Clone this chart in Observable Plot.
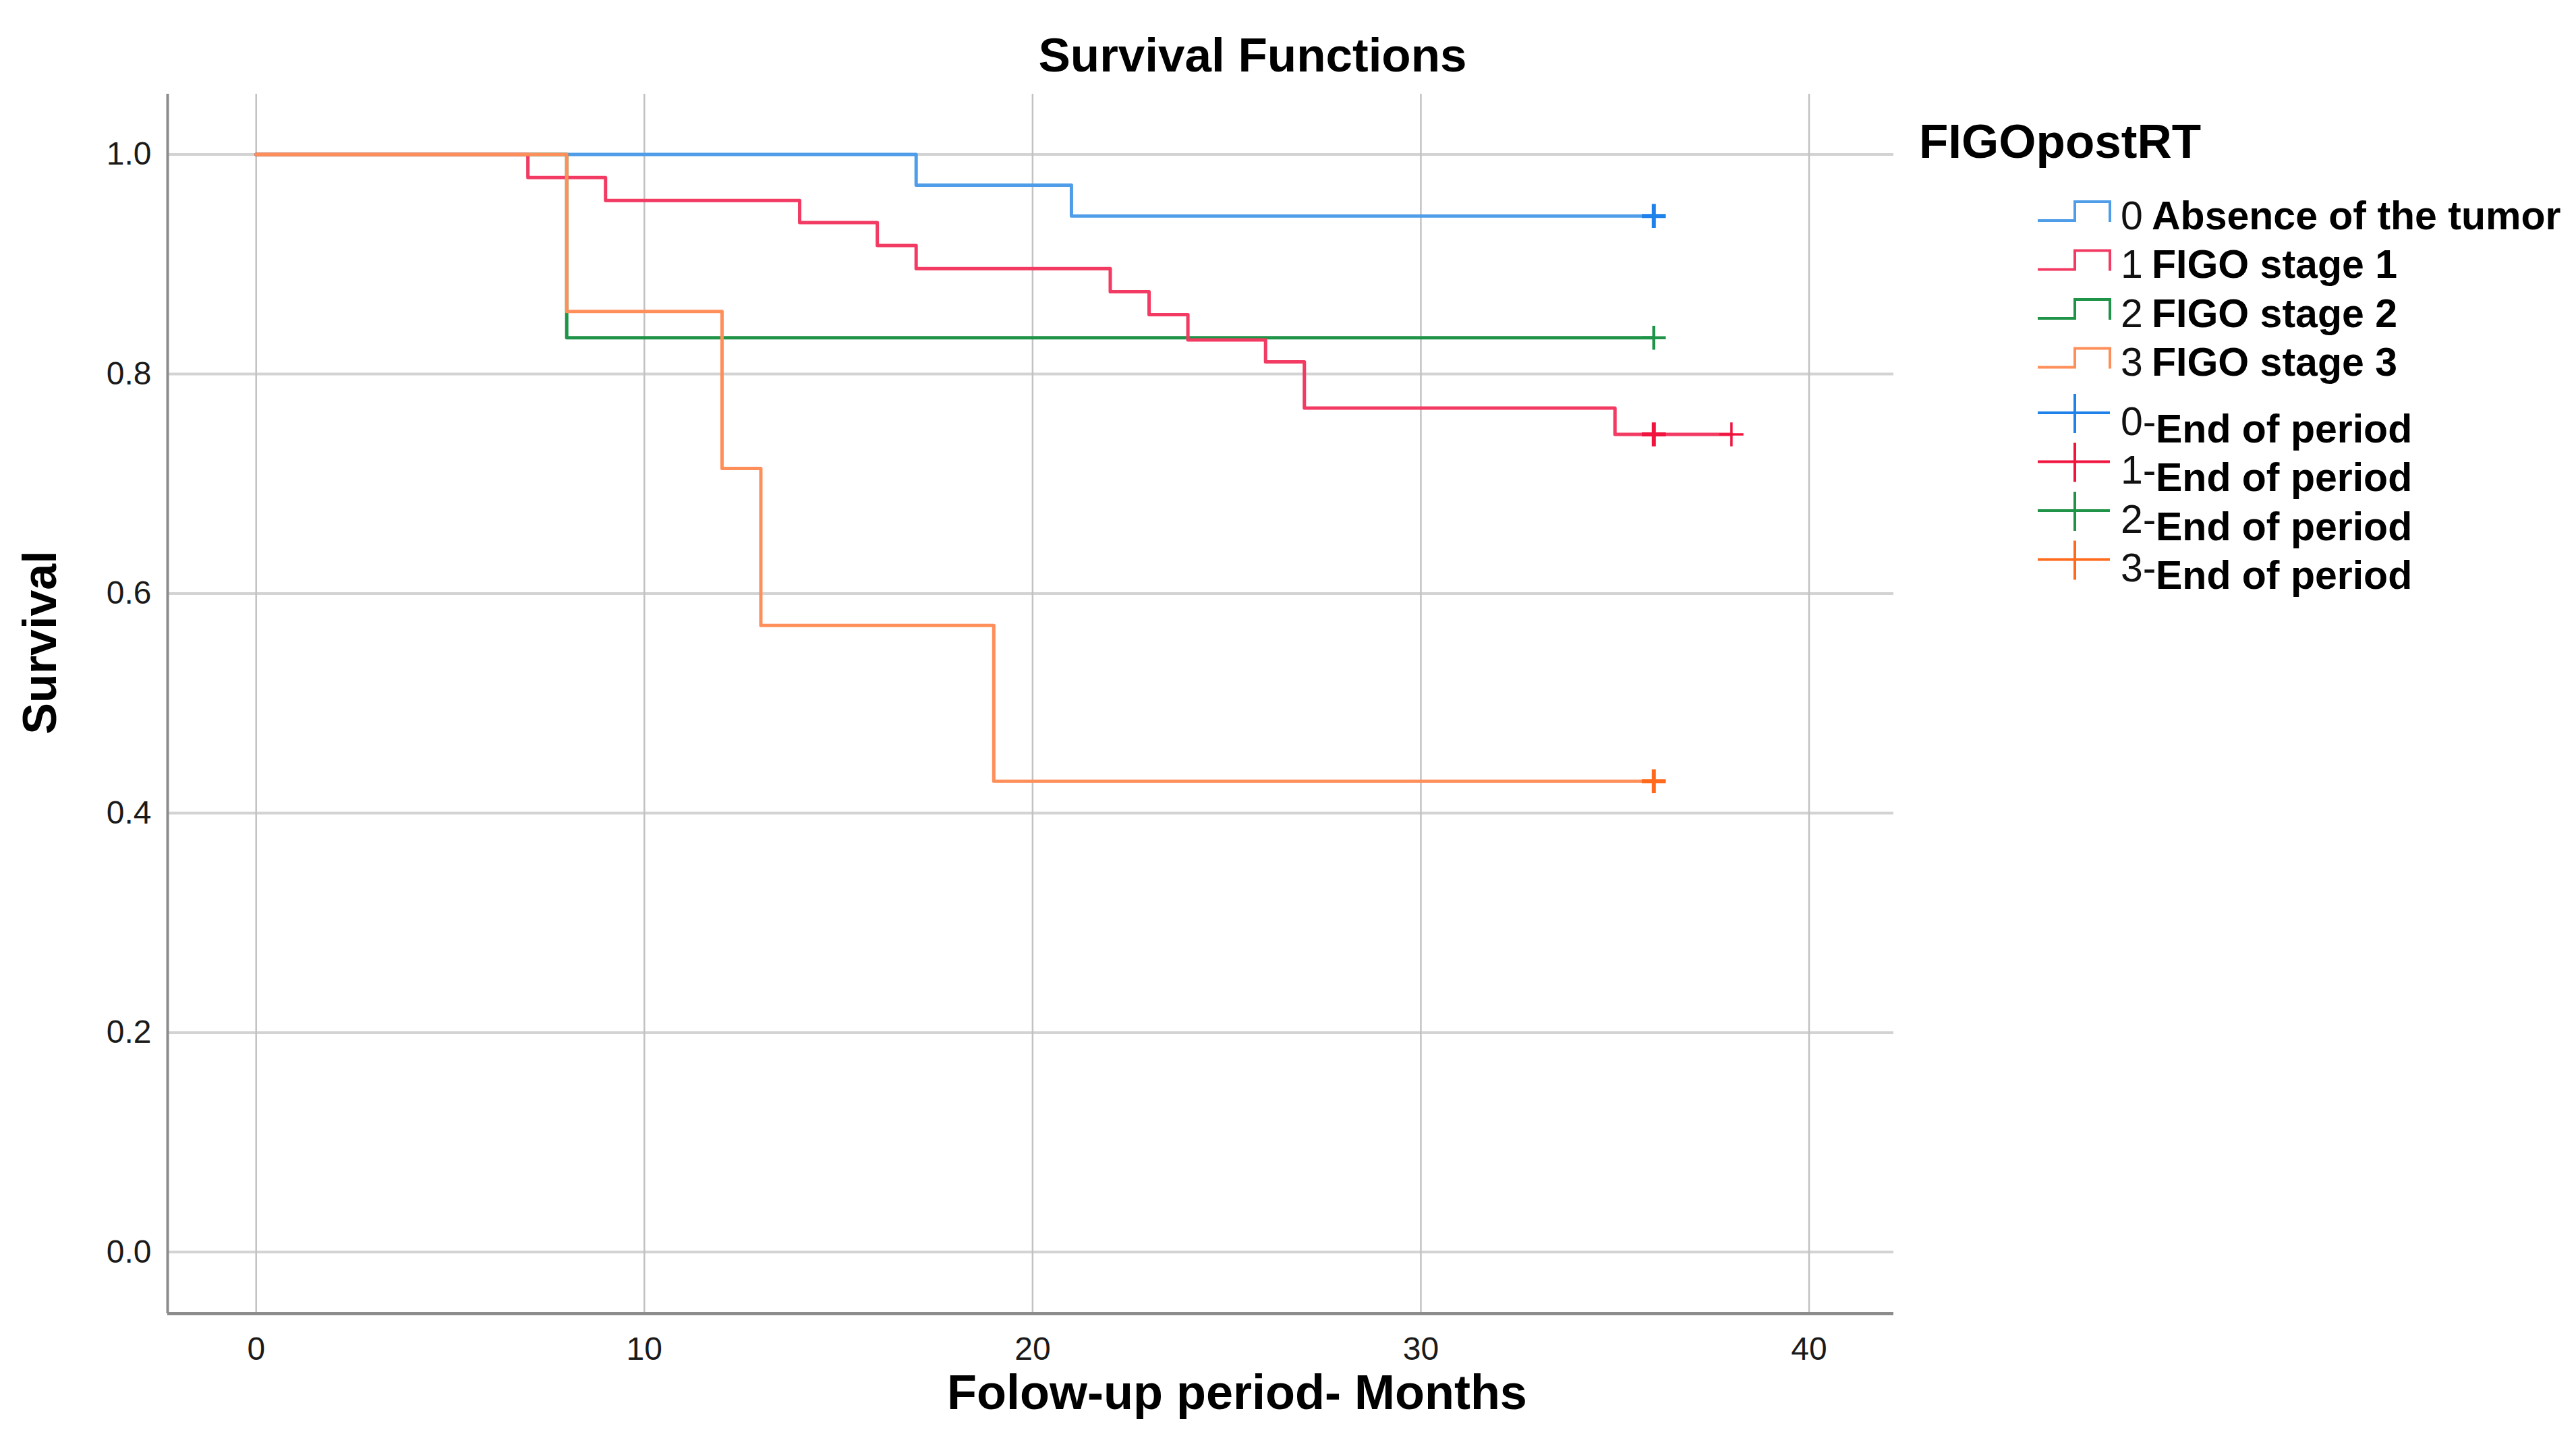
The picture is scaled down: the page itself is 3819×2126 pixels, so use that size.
<!DOCTYPE html>
<html>
<head>
<meta charset="utf-8">
<script src="https://cdn.jsdelivr.net/npm/d3@7"></script>
<script src="https://cdn.jsdelivr.net/npm/@observablehq/plot@0.6"></script>
<style>
  html, body { margin: 0; padding: 0; background: #fff; }
  svg { display: block; }
</style>
</head>
<body>
<div id="chart"></div>
<script>
// ---- data ----
const groupCodes = ["0", "1", "2", "3"];
const groupNames = ["Absence of the tumor", "FIGO stage 1", "FIGO stage 2", "FIGO stage 3"];
const lineColors = ["#4f9de8", "#f23a62", "#1f9448", "#ff8f5a"];
const censorColors = ["#1f82ea", "#f0143f", "#1f9448", "#ff6a1c"];

const times0 = [0, 17, 21, 36];
const surv0  = [1.0, 0.972, 0.944, 0.944];
const times1 = [0, 7, 9, 14, 16, 17, 22, 23, 24, 26, 27, 35, 38];
const surv1  = [1.0, 0.979, 0.958, 0.938, 0.917, 0.896, 0.875, 0.854, 0.831, 0.811, 0.769, 0.745, 0.745];
const times2 = [0, 8, 36];
const surv2  = [1.0, 0.833, 0.833];
const times3 = [0, 8, 12, 13, 19, 36];
const surv3  = [1.0, 0.857, 0.714, 0.571, 0.429, 0.429];

const censTimes0 = [36], censSurv0 = [0.944];
const censTimes1 = [36, 38], censSurv1 = [0.745, 0.745];
const censTimes2 = [36], censSurv2 = [0.833];
const censTimes3 = [36], censSurv3 = [0.429];

const xTicks = [0, 10, 20, 30, 40];
const yTicks = [0.0, 0.2, 0.4, 0.6, 0.8, 1.0];
const xDomain = [-2.28, 42.18];
const yDomain = [-0.056, 1.055];

const titleText = "Survival Functions";
const xLabel = "Folow-up period- Months";
const yLabel = "Survival";
const legendTitle = "FIGOpostRT";
const censorLabel = "End of period";

// ---- build tables ----
const allTimes = [times0, times1, times2, times3];
const allSurv = [surv0, surv1, surv2, surv3];
const allCensT = [censTimes0, censTimes1, censTimes2, censTimes3];
const allCensS = [censSurv0, censSurv1, censSurv2, censSurv3];
const curves = allTimes.map((ts, g) => ts.map((t, i) => ({t, s: allSurv[g][i], g})));
const censors = allCensT.map((ts, g) => ts.map((t, i) => ({t, s: allCensS[g][i], g})));
const censorWidths = [[6], [6, 3.5], [4.5], [6]];
const drawOrder = [0, 2, 1, 3];

const FONT = "'Liberation Sans', Arial, Helvetica, sans-serif";
const W = 3819, H = 2126;

const marks = [
  Plot.ruleY(yTicks, {stroke: "#d3d3d3", strokeWidth: 4}),
  Plot.ruleX(xTicks, {stroke: "#c2c2c2", strokeWidth: 2.5}),
  Plot.ruleX([xDomain[0]], {stroke: "#8c8c8c", strokeWidth: 4}),
  Plot.ruleY([yDomain[0]], {stroke: "#8c8c8c", strokeWidth: 5}),
  Plot.axisY({ticks: yTicks, tickSize: 0, tickPadding: 24, fontSize: 48, tickFormat: d3.format(".1f"), label: null, fill: "#1a1a1a"}),
  Plot.axisX({ticks: xTicks, tickSize: 0, tickPadding: 34, fontSize: 48, tickFormat: d => String(d), label: null, fill: "#1a1a1a"})
];
drawOrder.forEach(g => {
  marks.push(Plot.line(curves[g], {x: "t", y: "s", curve: "step-after", stroke: lineColors[g], strokeWidth: 5}));
});
censors.forEach((c, g) => {
  c.forEach((d, i) => {
    marks.push(Plot.dot([d], {x: "t", y: "s", symbol: "plus", r: 11.5, stroke: censorColors[g], strokeWidth: censorWidths[g][i]}));
  });
});
marks.push(
  Plot.text([titleText], {frameAnchor: "top", lineAnchor: "middle", textAnchor: "middle", dx: 329, dy: -56, fontSize: 71, fontWeight: "bold", fill: "#000", fontFamily: FONT}),
  Plot.text([xLabel], {frameAnchor: "bottom", lineAnchor: "middle", textAnchor: "middle", dx: 306, dy: 118, fontSize: 72, fontWeight: "bold", fill: "#000", fontFamily: FONT}),
  Plot.text([yLabel], {frameAnchor: "left", lineAnchor: "middle", textAnchor: "middle", dx: -188, dy: -91, rotate: -90, fontSize: 70, fontWeight: "bold", fill: "#000", fontFamily: FONT})
);

const chart = Plot.plot({
  width: W, height: H,
  marginLeft: 248, marginRight: W - 2807, marginTop: 139, marginBottom: H - 1947,
  x: {domain: xDomain, label: null},
  y: {domain: yDomain, label: null},
  style: {fontFamily: FONT, background: "#fff", color: "#1a1a1a", overflow: "visible"},
  marks
});
document.getElementById("chart").appendChild(chart);

// ---- legend (layout in pixels) ----
const svg = d3.select(chart.tagName.toLowerCase() === "svg" ? chart : chart.querySelector("svg"));
const lg = svg.append("g").attr("font-family", FONT).attr("text-anchor", "start");
lg.append("text").attr("x", 2845).attr("y", 209).attr("dy", "0.35em")
  .attr("font-size", 71).attr("font-weight", "bold").attr("fill", "#000").text(legendTitle);

groupCodes.forEach((code, i) => {
  const cy = 319 + i * 72.5;
  lg.append("path")
    .attr("d", `M3021,${cy + 8}H3076V${cy - 20}H3128V${cy + 10}`)
    .attr("fill", "none").attr("stroke", lineColors[i]).attr("stroke-width", 4);
  lg.append("text").attr("x", 3144).attr("y", cy).attr("dy", "0.35em")
    .attr("font-size", 59).attr("fill", "#111").text(code);
  lg.append("text").attr("x", 3190).attr("y", cy).attr("dy", "0.35em")
    .attr("font-size", 59).attr("font-weight", "bold").attr("fill", "#000").text(groupNames[i]);
});
groupCodes.forEach((code, i) => {
  const hy = 612 + i * 72.5;
  lg.append("path")
    .attr("d", `M3021,${hy}H3128M3076,${hy - 28}V${hy + 30}`)
    .attr("fill", "none").attr("stroke", censorColors[i]).attr("stroke-width", 4);
  lg.append("text").attr("x", 3144).attr("y", hy + 12).attr("dy", "0.35em")
    .attr("font-size", 59).attr("fill", "#111").text(code + "-");
  lg.append("text").attr("x", 3196).attr("y", hy + 23).attr("dy", "0.35em")
    .attr("font-size", 59).attr("font-weight", "bold").attr("fill", "#000").text(censorLabel);
});
</script>
</body>
</html>
